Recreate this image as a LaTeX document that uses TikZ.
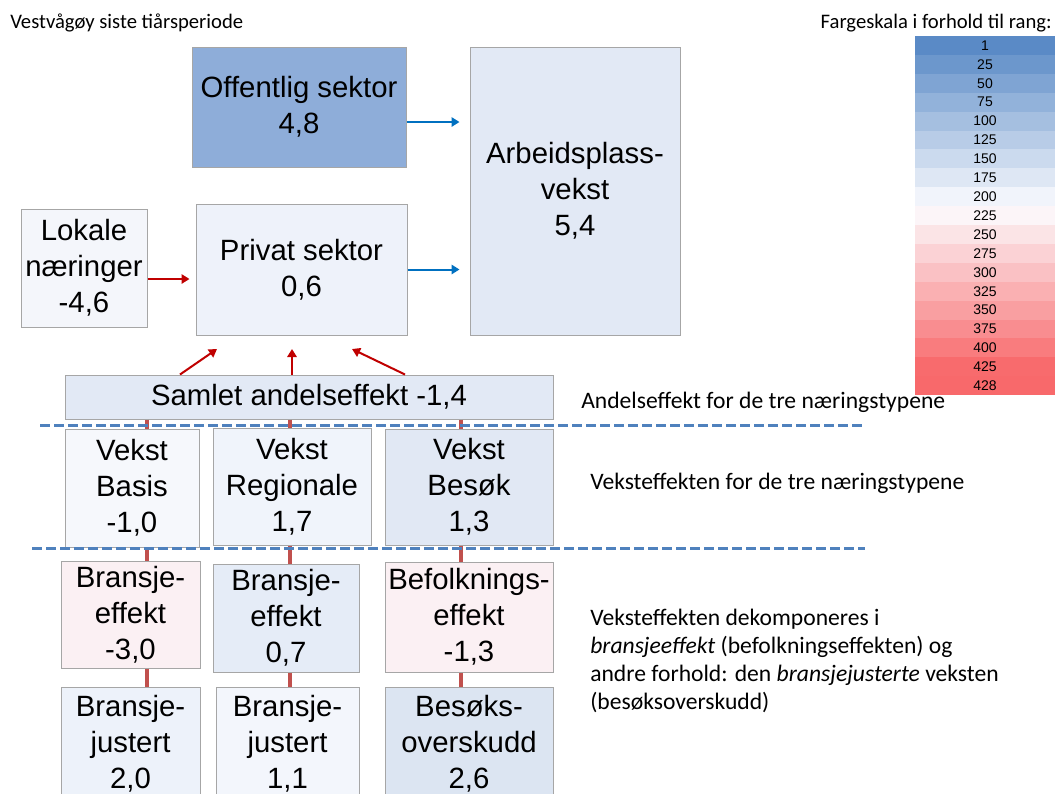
\documentclass[tikz,border=0pt]{standalone}
\usepackage{fontspec}
\setmainfont{Liberation Sans}
\newfontfamily\notefont{Carlito}
\usepackage{xcolor}
\usetikzlibrary{arrows.meta,positioning,calc}

\definecolor{boxgray}{HTML}{A6A6A6}
\definecolor{arrowblue}{HTML}{0070C0}
\definecolor{arrowred}{HTML}{C00000}
\definecolor{linkred}{HTML}{C0504D}
\definecolor{sepblue}{HTML}{4F81BD}
% colour scale (low, mid, high)
\definecolor{sclo}{HTML}{5A8AC6}
\definecolor{sclm}{HTML}{FCFCFF}
\definecolor{schi}{HTML}{F8696B}
% box fills
\definecolor{cOff}{HTML}{8EADD9}
\definecolor{cArb}{HTML}{E2E9F5}
\definecolor{cPriv}{HTML}{EEF2FA}
\definecolor{cLok}{HTML}{F4F6FB}
\definecolor{cSam}{HTML}{E2E9F5}
\definecolor{cVb}{HTML}{F6F8FC}
\definecolor{cVr}{HTML}{F0F4FB}
\definecolor{cVs}{HTML}{E1E8F4}
\definecolor{cEb}{HTML}{FBF0F3}
\definecolor{cEr}{HTML}{E5ECF7}
\definecolor{cEs}{HTML}{FBF0F3}
\definecolor{cJb}{HTML}{EDF2FA}
\definecolor{cJr}{HTML}{F3F6FC}
\definecolor{cJs}{HTML}{DCE5F2}

\newcommand\boxfont{\fontsize{22}{27}\selectfont}
\newcommand\scalefont{\fontsize{10.5}{12}\selectfont}

\begin{document}
\begin{tikzpicture}[x=0.75pt, y=-0.75pt,
  box/.style={draw=boxgray, line width=0.75pt, align=center, inner sep=0pt, font=\boxfont},
  bluearrow/.style={draw=arrowblue, line width=1.5pt, -{Triangle[length=6pt,width=7pt]}},
  redarrow/.style={draw=arrowred, line width=1.5pt, -{Triangle[length=6pt,width=7pt]}},
  link/.style={draw=linkred, line width=2.7pt},
  sep/.style={draw=sepblue, line width=2.25pt, dash pattern=on 7.5pt off 3pt},
  note/.style={font=\notefont\fontsize{17.7}{21}\selectfont, inner sep=0pt}]

  \useasboundingbox (0,0) rectangle (1055,793);
  \clip (0,0) rectangle (1055,793);

  % Headings
  \node[note, font=\notefont\fontsize{15.5}{18}\selectfont, anchor=base west] (title) at (10,28) {Vestvågøy siste tiårsperiode};
  \node[note, font=\notefont\fontsize{15.5}{18}\selectfont, anchor=base east] (legtitle) at (1052,28) {Fargeskala i forhold til rang:};

  % Colour scale
  \foreach \v [count=\i from 0] in {1,25,50,75,100,125,150,175,200,225,250,275,300,325,350,375,400,425,428} {
    \pgfmathsetmacro\pb{max(0,(214.5-\v)/2.135)}
    \pgfmathsetmacro\pr{max(0,(\v-214.5)/2.135)}
    \colorlet{rowa}{sclo!\pb!sclm}
    \colorlet{rowc}{schi!\pr!rowa}
    \node[fill=rowc, minimum width=105pt, minimum height=14.3pt, inner sep=0pt, outer sep=0pt,
          font=\scalefont, anchor=north west] (r\i) at (915,{36+18.9*\i}) {\v};
  }

  % Top boxes
  \node[box, fill=cOff, minimum width=160.5pt, minimum height=90pt] (off) at (299,107) {Offentlig sektor\\4,8};
  \node[box, fill=cArb, minimum width=157.5pt, minimum height=216pt] (arb) at (575,191) {Arbeidsplass-\\vekst\\5,4};
  \node[box, fill=cPriv, minimum width=158.25pt, minimum height=98.25pt] (priv) at (301.5,269.5) {Privat sektor\\0,6};
  \node[box, fill=cLok, minimum width=94.5pt, minimum height=88.5pt] (lok) at (84,268) {Lokale\\næringer\\-4,6};

  \draw[bluearrow, shorten >=7.5pt] ([yshift=-11.25pt]off.east) -- ([yshift=-11.25pt]off.east -| arb.west);
  \draw[bluearrow, shorten >=7.5pt] (priv.east) -- (priv.east -| arb.west);
  \draw[redarrow, shorten >=4.5pt] ([yshift=-8.25pt]lok.east) -- ([yshift=-8.25pt]lok.east -| priv.west);

  % Share effect
  \node[box, fill=cSam, minimum width=366pt, minimum height=33pt] (sam) at (309,397) {Samlet andelseffekt -1,4};

  \foreach \s/\t [count=\k] in {180/217, 292/292, 405/352} {
    \coordinate (src\k) at (\s,0);
    \coordinate (tip\k) at (\t,349);
    \draw[redarrow] (sam.north -| src\k) -- (tip\k);
  }

  % Growth effect
  \node[box, fill=cVb, minimum width=100.5pt, minimum height=88.5pt] (vb) at (132,488) {Vekst\\Basis\\-1,0};
  \node[box, fill=cVr, minimum width=118.5pt, minimum height=87.75pt] (vr) at (292,486.5) {Vekst\\Regionale\\1,7};
  \node[box, fill=cVs, minimum width=126pt, minimum height=87pt] (vs) at (469,487) {Vekst\\Besøk\\1,3};

  % Decomposition
  \node[box, fill=cEb, minimum width=104.25pt, minimum height=80.25pt] (eb) at (130.5,614.5) {Bransje-\\effekt\\-3,0};
  \node[box, fill=cEr, minimum width=109.5pt, minimum height=81pt] (er) at (286,618) {Bransje-\\effekt\\0,7};
  \node[box, fill=cEs, minimum width=126pt, minimum height=82.5pt] (es) at (469,617) {Befolknings-\\effekt\\-1,3};

  \node[box, fill=cJb, minimum width=104.25pt, minimum height=85.5pt] (jb) at (130.5,744) {Bransje-\\justert\\2,0};
  \node[box, fill=cJr, minimum width=107.25pt, minimum height=85.5pt] (jr) at (287.5,744) {Bransje-\\justert\\1,1};
  \node[box, fill=cJs, minimum width=126pt, minimum height=85.5pt] (js) at (469,744) {Besøks-\\overskudd\\2,6};

  % Links
  \coordinate (l1) at (147,0);
  \coordinate (l2) at (290,0);
  \coordinate (l3) at (461,0);
  \foreach \k/\a/\b/\c in {1/vb/eb/jb, 2/vr/er/jr, 3/vs/es/js}
    \draw[link] (sam.south -| l\k) -- (\a.north -| l\k)
                (\a.south -| l\k) -- (\b.north -| l\k)
                (\b.south -| l\k) -- (\c.north -| l\k);

  % Separators
  \draw[sep] (40,425) -- (865,425);
  \draw[sep] (32,548) -- (865,548);

  % Notes
  \node[note, anchor=base west] (andel) at (581,408) {Andelseffekt for de tre næringstypene};
  \node[note, anchor=base west] (vekst) at (590,489) {Veksteffekten for de tre næringstypene};
  \node[note, anchor=north west, align=left] (dekomp) at (590,609)
    {Veksteffekten dekomponeres i\\\emph{bransjeeffekt} (befolkningseffekten) og\\andre forhold: den \emph{bransjejusterte} veksten\\(besøksoverskudd)};

\end{tikzpicture}
\end{document}
